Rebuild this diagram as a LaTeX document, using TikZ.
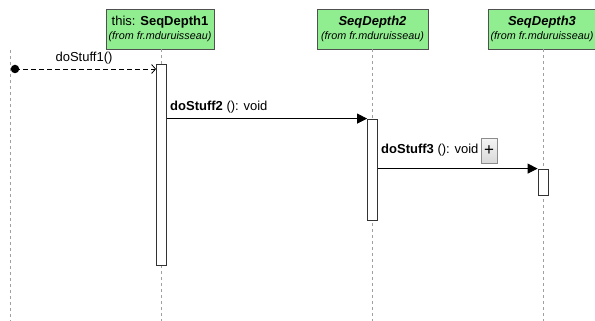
\documentclass[tikz,border=0pt]{standalone}
\usepackage{fontspec}
\setmainfont{Liberation Sans}
\usetikzlibrary{arrows.meta,calc}
\definecolor{boxgreen}{RGB}{144,238,144}
\definecolor{boxborder}{RGB}{80,80,80}
\definecolor{lifegray}{RGB}{160,160,160}
\tikzset{
  participant/.style={draw=boxborder,line width=0.9pt,fill=boxgreen,minimum height=40pt,inner sep=0pt,align=center},
  lifeline/.style={draw=lifegray,line width=0.8pt,dash pattern=on 3pt off 3pt},
  activation/.style={draw=black!80,line width=0.8pt,fill=white,minimum width=10pt,inner sep=0pt,rectangle},
  msg/.style={draw=black,line width=0.8pt},
  lbl/.style={inner sep=0pt,anchor=west,font=\fontsize{13pt}{15pt}\selectfont},
  plusbtn/.style={draw=black!45,line width=0.6pt,top color=gray!8,bottom color=gray!30,minimum width=16pt,minimum height=25pt,inner sep=0pt,font=\fontsize{17pt}{18pt}\selectfont}
}
\begin{document}
\begin{tikzpicture}[x=1pt,y=-1pt]
\useasboundingbox (0,0) rectangle (595,321);
% participants
\node[participant,minimum width=108pt] (p1) at (160,29) {\fontsize{13pt}{15pt}\selectfont this: \textbf{SeqDepth1}\\[2pt]{\fontsize{10.8pt}{12pt}\selectfont\itshape (from fr.mduruisseau)}};
\node[participant,minimum width=111pt] (p2) at (372.5,29) {{\fontsize{13pt}{15pt}\selectfont\bfseries\itshape SeqDepth2}\\[2pt]{\fontsize{10.8pt}{12pt}\selectfont\itshape (from fr.mduruisseau)}};
\node[participant,minimum width=108pt] (p3) at (542,29) {{\fontsize{13pt}{15pt}\selectfont\bfseries\itshape SeqDepth3}\\[2pt]{\fontsize{10.8pt}{12pt}\selectfont\itshape (from fr.mduruisseau)}};
% lifeline ends
\coordinate (l0top) at (10,50);
\coordinate (l0bot) at (10,321);
\coordinate (l1bot) at (161,321);
\coordinate (l2bot) at (372.5,321);
\coordinate (l3bot) at (543,321);
\draw[lifeline] (l0top) -- (l0bot);
\draw[lifeline] (p1.south -| l1bot) -- (l1bot);
\draw[lifeline] (p2.south) -- (l2bot);
\draw[lifeline] (p3.south -| l3bot) -- (l3bot);
% activations
\node[activation,minimum height=201pt] (a1) at (161.5,164.5) {};
\node[activation,minimum height=101pt] (a2) at (372.5,169.5) {};
\node[activation,minimum height=26pt] (a3) at (543,182) {};
% found message
\node[circle,fill=black,inner sep=0pt,minimum size=8.5pt] (dot) at (15,69) {};
\draw[msg,dashed,dash pattern=on 5pt off 3pt,-{Straight Barb[length=4pt,width=9pt]}] (dot.center) -- (dot -| a1.west);
\node[font=\fontsize{13pt}{15pt}\selectfont,inner sep=0pt] (m1) at (84,58) {doStuff1()};
% doStuff2
\draw[msg,-{Triangle[length=10pt,width=10pt]}] (a1.east |- a2.north west) -- (a2.north west);
\node[lbl] (m2) at (170,107.5) {\textbf{doStuff2} (): void};
% doStuff3
\draw[msg,-{Triangle[length=10pt,width=10pt]}] (a2.east |- a3.north west) -- (a3.north west);
\node[lbl] (m3) at (381,150.5) {\textbf{doStuff3} (): void};
\node[plusbtn] (plus) at (489,150.5) {+};
\end{tikzpicture}
\end{document}
